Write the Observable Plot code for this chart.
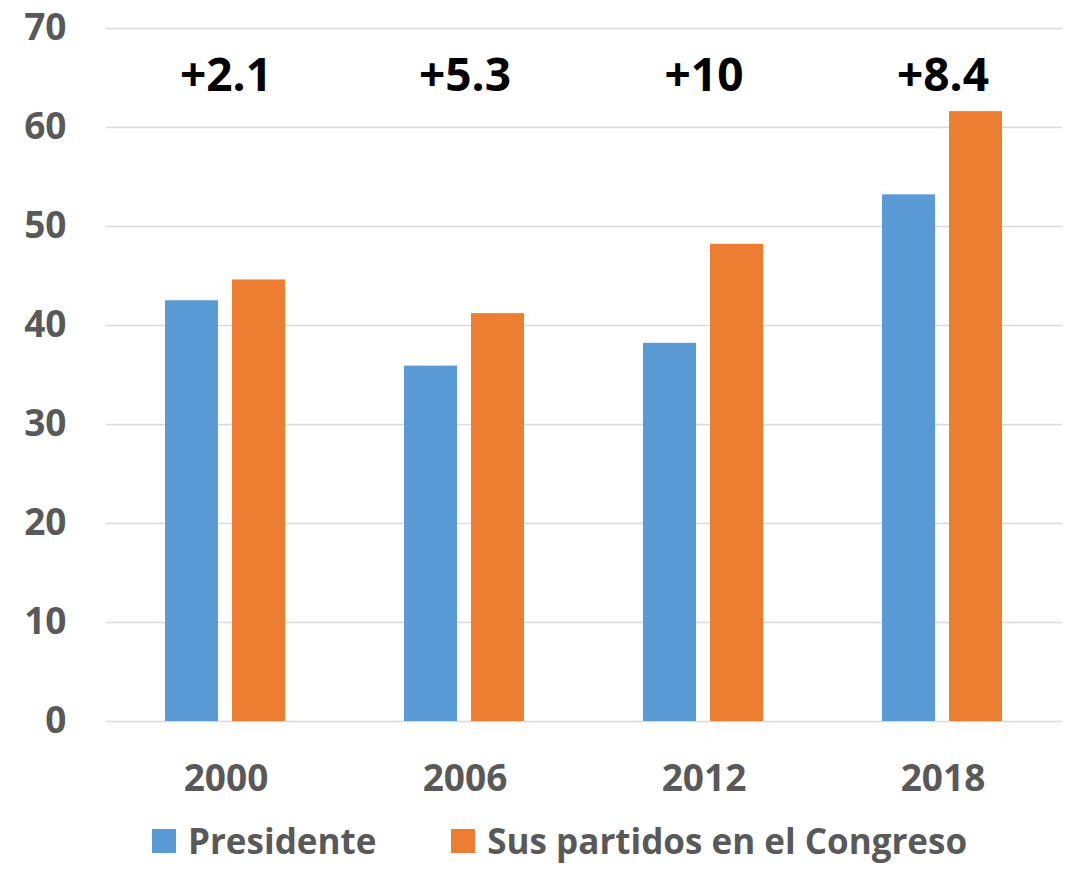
<!DOCTYPE html>
<html><head><meta charset="utf-8">
<script src="https://cdn.jsdelivr.net/npm/d3@7"></script>
<script src="https://cdn.jsdelivr.net/npm/@observablehq/plot@0.6"></script>
<style>
body{margin:0;background:#fff;font-family:"Open Sans",sans-serif;}
.lg-swatches{font-family:"Open Sans",sans-serif !important;font-size:35px !important;font-weight:700 !important;color:#595959 !important;margin:9px 0 0 152px !important;line-height:1.25 !important;}
.lg-swatches-wrap{min-height:0 !important;}
.lg-swatch{margin-right:75px !important;}
.lg-swatch > svg{margin-right:12px !important;}
</style></head><body><div id="chart"></div><script>
const years = ["2000","2006","2012","2018"];
const series = ["Presidente","Sus partidos en el Congreso"];
const presidente = [42.5,35.9,38.2,53.2];
const congreso = [44.6,41.2,48.2,61.6];
const diffLabels = ["+2.1","+5.3","+10","+8.4"];
const colors = ["#5B9BD5","#ED7D31"];
const yTicks = [0,10,20,30,40,50,60,70];
const labelLevel = 65.2;

const data = [];
years.forEach((yr,i)=>{
  data.push({year:yr, series:series[0], value:presidente[i]});
  data.push({year:yr, series:series[1], value:congreso[i]});
});
const labelData = years.map((yr,i)=>({year:yr, label:diffLabels[i], level:labelLevel}));

const chart = Plot.plot({
  width:1066, height:810,
  marginLeft:105, marginRight:4, marginTop:28, marginBottom:89,
  style:{fontFamily:"'Open Sans', sans-serif", fontSize:"37px", fontWeight:700, color:"#595959", background:"#fff", overflow:"visible"},
  fx:{domain:years, padding:0, label:null, axis:"bottom", tickSize:0, tickPadding:43},
  x:{domain:series, axis:null, paddingInner:0.206, paddingOuter:0.862},
  y:{domain:[0,70], ticks:yTicks, label:null, tickSize:0, tickPadding:40},
  color:{domain:series, range:colors},
  marks:[
    Plot.gridY(yTicks,{stroke:"#d9d9d9", strokeOpacity:1, strokeWidth:1.5}),
    Plot.barY(data,{fx:"year", x:"series", y:"value", fill:"series"}),
    Plot.text(labelData,{fx:"year", y:"level", text:"label", fill:"#000", fontSize:46, fontWeight:700})
  ]
});
document.getElementById("chart").appendChild(chart);
const lg = Plot.legend({color:{domain:series, range:colors}, legend:"swatches", swatchSize:24, className:"lg"});
document.getElementById("chart").appendChild(lg);
</script></body></html>
